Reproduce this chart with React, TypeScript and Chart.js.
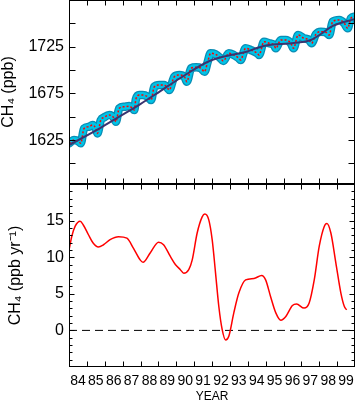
import React, { useEffect, useRef } from "react";
import { Chart, registerables } from "chart.js";

Chart.register(...registerables);

// ---- Data ----
const bandYears = [
  1984.00, 1984.28, 1984.56, 1984.66, 1984.84, 1985.12, 1985.31, 1985.50, 1985.59, 1985.78,
  1985.96, 1986.25, 1986.53, 1986.62, 1986.81, 1987.09, 1987.37, 1987.55, 1987.65, 1987.74,
  1987.93, 1988.12, 1988.40, 1988.59, 1988.77, 1989.05, 1989.33, 1989.52, 1989.61, 1989.89,
  1990.18, 1990.46, 1990.59, 1990.83, 1991.11, 1991.39, 1991.58, 1991.76, 1991.92, 1992.20,
  1992.48, 1992.63, 1992.94, 1993.22, 1993.50, 1993.60, 1993.88, 1994.16, 1994.54, 1994.63,
  1994.91, 1995.19, 1995.47, 1995.57, 1995.85, 1996.13, 1996.41, 1996.56, 1996.82, 1997.15,
  1997.43, 1997.57, 1997.81, 1998.09, 1998.37, 1998.56, 1998.75, 1999.12, 1999.40, 1999.59,
  1999.77, 2000.00,
];
const bandCH4 = [
  1621.5, 1625.0, 1623.2, 1621.5, 1637.5, 1639.3, 1641.1, 1637.5, 1632.2, 1646.4,
  1649.3, 1651.8, 1648.3, 1644.6, 1659.0, 1660.7, 1661.4, 1659.0, 1657.2, 1668.6,
  1673.2, 1673.2, 1671.4, 1667.9, 1682.1, 1684.0, 1684.0, 1680.4, 1678.6, 1692.9,
  1694.7, 1692.9, 1687.5, 1701.9, 1702.9, 1701.9, 1698.2, 1708.9, 1717.9, 1716.9,
  1712.6, 1709.7, 1717.9, 1716.1, 1712.6, 1710.8, 1723.3, 1721.5, 1717.9, 1716.1,
  1730.4, 1728.7, 1726.8, 1723.3, 1732.2, 1732.2, 1728.7, 1723.3, 1737.6, 1734.0,
  1732.2, 1728.7, 1738.3, 1741.1, 1740.5, 1737.6, 1751.8, 1753.6, 1750.1, 1744.7,
  1755.5, 1757.2,
];

const trendYears = [1984.0, 1985.74, 1986.86, 1987.99, 1989.11, 1990.23, 1991.86, 1993.04, 1993.88, 1994.89, 1996.58, 1997.53, 1998.09, 1998.76, 2000.0];
const trendCH4 = [1619.6, 1637.9, 1650.7, 1663.6, 1677.5, 1691.5, 1709.7, 1716.1, 1719.3, 1725.8, 1729.0, 1732.2, 1738.6, 1747.2, 1754.7];

const rateYears = [
  1984.02, 1984.15, 1984.34, 1984.62, 1984.80, 1985.08, 1985.36, 1985.64, 1985.93, 1986.30,
  1986.77, 1987.24, 1987.61, 1987.99, 1988.14, 1988.55, 1989.01, 1989.29, 1989.67, 1989.95,
  1990.23, 1990.42, 1990.70, 1990.89, 1991.17, 1991.45, 1991.60, 1991.82, 1992.01, 1992.20,
  1992.38, 1992.57, 1992.76, 1992.94, 1993.22, 1993.50, 1993.88, 1994.35, 1994.78, 1995.00,
  1995.28, 1995.57, 1995.85, 1996.13, 1996.50, 1996.73, 1997.15, 1997.43, 1997.72, 1998.00,
  1998.28, 1998.43, 1998.65, 1998.93, 1999.21, 1999.40, 1999.53,
];
const rateValues = [
  11.2, 12.8, 14.2, 14.9, 14.4, 13.1, 11.9, 11.4, 11.7, 12.4,
  12.8, 12.6, 11.2, 9.6, 9.3, 10.6, 12.05, 11.7, 10.1, 9.0,
  8.3, 7.8, 8.3, 9.6, 13.3, 15.5, 15.9, 15.1, 12.4, 7.8,
  3.3, 0.1, -1.3, -0.8, 2.4, 5.1, 6.9, 7.1, 7.5, 6.9,
  4.6, 2.4, 1.4, 1.9, 3.4, 3.6, 3.05, 3.7, 6.9, 11.5,
  14.2, 14.6, 13.3, 9.2, 5.1, 3.3, 2.8,
];

const yearTickLabels = ["84", "85", "86", "87", "88", "89", "90", "91", "92", "93", "94", "95", "96", "97", "98", "99"];
const yearTicks = [1985, 1986, 1987, 1988, 1989, 1990, 1991, 1992, 1993, 1994, 1995, 1996, 1997, 1998, 1999];
const topMajorTicks = [1625, 1675, 1725];
const topMinorTicks = [1600, 1650, 1700, 1750];
const rateMajorTicks = [0, 5, 10, 15];
const rateMinorTicks = [-4, -3, -2, -1, 1, 2, 3, 4, 6, 7, 8, 9, 11, 12, 13, 14, 16, 17, 18, 19];

const FONT = '"Liberation Sans", Arial, Helvetica, sans-serif';

function framePlugin(yMajor: number[], yMinor: number[], majorLen: number, minorLen: number) {
  return {
    id: "frameTicks",
    afterDraw(chart: any) {
      const { ctx, chartArea } = chart;
      const x = chart.scales.x;
      const y = chart.scales.y;
      const L = Math.round(chartArea.left) + 0.5;
      const R = Math.round(chartArea.right) - 0.5;
      const T = Math.round(chartArea.top) + 0.5;
      const B = Math.round(chartArea.bottom) - 0.5;
      ctx.save();
      ctx.strokeStyle = "#000";
      ctx.lineWidth = 1;
      ctx.setLineDash([]);
      ctx.strokeRect(L, T, R - L, B - T);
      ctx.beginPath();
      for (const v of yearTicks) {
        const px = Math.round(x.getPixelForValue(v)) + 0.5;
        ctx.moveTo(px, T);
        ctx.lineTo(px, T + 5);
        ctx.moveTo(px, B);
        ctx.lineTo(px, B - 5);
      }
      for (const v of yMajor) {
        const py = Math.round(y.getPixelForValue(v)) + 0.5;
        ctx.moveTo(L, py);
        ctx.lineTo(L + majorLen, py);
        ctx.moveTo(R, py);
        ctx.lineTo(R - majorLen, py);
      }
      for (const v of yMinor) {
        const py = Math.round(y.getPixelForValue(v)) + 0.5;
        ctx.moveTo(L, py);
        ctx.lineTo(L + minorLen, py);
        ctx.moveTo(R, py);
        ctx.lineTo(R - minorLen, py);
      }
      ctx.stroke();
      ctx.restore();
    },
  };
}

const fitY = (axis: any) => {
  axis.width = 69;
  axis.paddingTop = 0;
  axis.paddingBottom = 0;
};

export default function App() {
  const topRef = useRef<HTMLCanvasElement | null>(null);
  const botRef = useRef<HTMLCanvasElement | null>(null);

  useEffect(() => {
    const band = bandYears.map((x, i) => ({ x, y: bandCH4[i] }));
    const trend = trendYears.map((x, i) => ({ x, y: trendCH4[i] }));
    const rate = rateYears.map((x, i) => ({ x, y: rateValues[i] }));

    const top = new Chart(topRef.current as HTMLCanvasElement, {
      type: "line",
      data: {
        datasets: [
          { data: trend, borderColor: "#3a3470", borderWidth: 2, pointRadius: 0, cubicInterpolationMode: "monotone", order: 0 },
          { data: band, borderColor: "#ff0000", borderWidth: 1.5, borderDash: [2, 2], pointRadius: 0, cubicInterpolationMode: "monotone", order: 1 },
          { data: band, borderColor: "#00c3e6", borderWidth: 6, borderJoinStyle: "round", borderCapStyle: "round", pointRadius: 0, cubicInterpolationMode: "monotone", order: 2 },
          { data: band, borderColor: "#0a8db4", borderWidth: 8.5, borderJoinStyle: "round", borderCapStyle: "round", pointRadius: 0, cubicInterpolationMode: "monotone", order: 3 },
        ],
      } as any,
      options: {
        responsive: false,
        animation: false,
        devicePixelRatio: 1,
        layout: { padding: { left: 0, right: 0, top: 0, bottom: 0 } },
        plugins: { legend: { display: false }, tooltip: { enabled: false } },
        scales: {
          x: { type: "linear", min: 1984, max: 2000, display: false },
          y: {
            min: 1578,
            max: 1775,
            afterBuildTicks: (axis: any) => {
              axis.ticks = topMajorTicks.map((v) => ({ value: v }));
            },
            afterFit: fitY,
            grid: { display: false, drawTicks: false },
            border: { display: false },
            ticks: { padding: 5, color: "#000", font: { family: FONT, size: 16 }, callback: (v: any) => String(v) },
            title: {
              display: true,
              text: "CH₄ (ppb)",
              color: "#000",
              font: { family: FONT, size: 16, lineHeight: 1.1 },
              padding: { top: 0, bottom: 0 },
            },
          },
        },
      } as any,
      plugins: [framePlugin(topMajorTicks, topMinorTicks, 6, 6)],
    });

    const bot = new Chart(botRef.current as HTMLCanvasElement, {
      type: "line",
      data: {
        datasets: [
          { data: rate, borderColor: "#ff0000", borderWidth: 1.5, pointRadius: 0, cubicInterpolationMode: "monotone", order: 0 },
          { data: [{ x: 1984, y: 0 }, { x: 2000, y: 0 }], borderColor: "#000", borderWidth: 1, borderDash: [8, 5], pointRadius: 0, order: 1 },
        ],
      } as any,
      options: {
        responsive: false,
        animation: false,
        devicePixelRatio: 1,
        layout: { padding: { left: 0, right: 0, top: 0, bottom: 0 } },
        plugins: { legend: { display: false }, tooltip: { enabled: false } },
        scales: {
          x: {
            type: "linear",
            min: 1984,
            max: 2000,
            afterBuildTicks: (axis: any) => {
              axis.ticks = yearTickLabels.map((l) => ({ value: 1900 + Number(l) + 0.5 }));
            },
            afterFit: (axis: any) => {
              axis.height = 36;
              axis.paddingLeft = 0;
              axis.paddingRight = 0;
            },
            grid: { display: false, drawTicks: false },
            border: { display: false },
            ticks: {
              autoSkip: false,
              maxRotation: 0,
              padding: 6,
              color: "#000",
              font: { family: FONT, size: 14 },
              callback: (_v: any, i: number) => yearTickLabels[i],
            },
            title: {
              display: true,
              text: "YEAR",
              color: "#000",
              font: { family: FONT, size: 12, lineHeight: 1 },
              padding: { top: 0, bottom: 0 },
            },
          },
          y: {
            min: -5,
            max: 20,
            afterBuildTicks: (axis: any) => {
              axis.ticks = rateMajorTicks.map((v) => ({ value: v }));
            },
            afterFit: fitY,
            grid: { display: false, drawTicks: false },
            border: { display: false },
            ticks: { padding: 5, color: "#000", font: { family: FONT, size: 16 }, callback: (v: any) => String(v) },
            title: {
              display: true,
              text: "CH₄ (ppb yr⁻¹)",
              color: "#000",
              font: { family: FONT, size: 16, lineHeight: 1.1 },
              padding: { top: 7, bottom: 0 },
            },
          },
        },
      } as any,
      plugins: [framePlugin(rateMajorTicks, rateMinorTicks, 5, 3)],
    });

    return () => {
      top.destroy();
      bot.destroy();
    };
  }, []);

  return (
    <div style={{ position: "absolute", left: 0, top: 0, width: 355, height: 403, background: "#fff" }}>
      <canvas ref={topRef} width={355} height={184} style={{ position: "absolute", left: 0, top: 0 }} />
      <canvas ref={botRef} width={355} height={219} style={{ position: "absolute", left: 0, top: 184 }} />
    </div>
  );
}
